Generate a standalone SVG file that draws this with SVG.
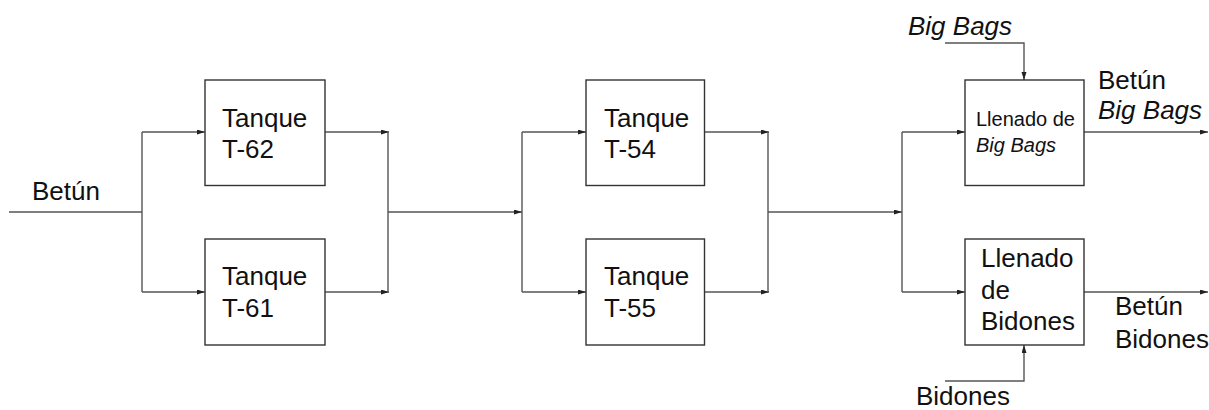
<svg xmlns="http://www.w3.org/2000/svg" width="1209" height="410" viewBox="0 0 1209 410">
<style>
.box{fill:#fff;stroke:#333;stroke-width:1.4}
.ln{fill:none;stroke:#555;stroke-width:1.4}
.t{font-family:"Liberation Sans",Arial,sans-serif;font-size:26px;fill:#111}
.s{font-size:20px}
.i{font-style:italic}
</style>
<defs>
<marker id="ah" markerUnits="userSpaceOnUse" markerWidth="9" markerHeight="6" refX="8" refY="2.5" orient="auto">
<path d="M0,0 L8,2.5 L0,5 z" fill="#222"/>
</marker>
</defs>
<rect width="1209" height="410" fill="#fff"/>
<g id="connectors">
<path class="ln" d="M9,212 H142 M142,132 V292"/>
<path class="ln" d="M142,132 H205" marker-end="url(#ah)"/>
<path class="ln" d="M142,292 H205" marker-end="url(#ah)"/>
<path class="ln" d="M325,132 H389" marker-end="url(#ah)"/>
<path class="ln" d="M325,292 H389" marker-end="url(#ah)"/>
<path class="ln" d="M388,132 V292"/>
<path class="ln" d="M388,212 H522" marker-end="url(#ah)"/>
<path class="ln" d="M522,132 V292"/>
<path class="ln" d="M522,132 H586" marker-end="url(#ah)"/>
<path class="ln" d="M522,292 H586" marker-end="url(#ah)"/>
<path class="ln" d="M704,132 H769" marker-end="url(#ah)"/>
<path class="ln" d="M704,292 H769" marker-end="url(#ah)"/>
<path class="ln" d="M768,132 V292"/>
<path class="ln" d="M768,212 H902" marker-end="url(#ah)"/>
<path class="ln" d="M902,132 V292"/>
<path class="ln" d="M902,132 H965" marker-end="url(#ah)"/>
<path class="ln" d="M902,292 H965" marker-end="url(#ah)"/>
<path class="ln" d="M1084,132 H1208" marker-end="url(#ah)"/>
<path class="ln" d="M1084,292 H1208" marker-end="url(#ah)"/>
<path class="ln" d="M945,43 H1024 V80" marker-end="url(#ah)"/>
<path class="ln" d="M945,381 H1024 V345" marker-end="url(#ah)"/>
</g>
<g id="t62">
<rect class="box" x="205" y="80" width="120" height="105.5"/>
<text class="t" x="222" y="127">Tanque</text>
<text class="t" x="222" y="158">T-62</text>
</g>
<g id="t61">
<rect class="box" x="205" y="239" width="120" height="106"/>
<text class="t" x="222" y="285">Tanque</text>
<text class="t" x="222" y="317">T-61</text>
</g>
<g id="t54">
<rect class="box" x="586" y="80" width="118.5" height="105.5"/>
<text class="t" x="604" y="127">Tanque</text>
<text class="t" x="604" y="158">T-54</text>
</g>
<g id="t55">
<rect class="box" x="586" y="239" width="118.5" height="106"/>
<text class="t" x="604" y="285">Tanque</text>
<text class="t" x="604" y="317">T-55</text>
</g>
<g id="bigbags">
<rect class="box" x="965" y="80" width="119" height="105.5"/>
<text class="t s" x="976" y="126">Llenado de</text>
<text class="t s i" x="976" y="152">Big Bags</text>
</g>
<g id="bidones">
<rect class="box" x="965" y="239" width="119" height="106"/>
<text class="t" x="981" y="267">Llenado</text>
<text class="t" x="981" y="299">de</text>
<text class="t" x="981" y="330">Bidones</text>
</g>
<g id="labels">
<text class="t" x="32" y="200">Betún</text>
<text class="t i" x="908" y="35">Big Bags</text>
<text class="t" x="1098" y="89">Betún</text>
<text class="t i" x="1098" y="119">Big Bags</text>
<text class="t" x="1115" y="315">Betún</text>
<text class="t" x="1115" y="348">Bidones</text>
<text class="t" x="916" y="405">Bidones</text>
</g>
</svg>
